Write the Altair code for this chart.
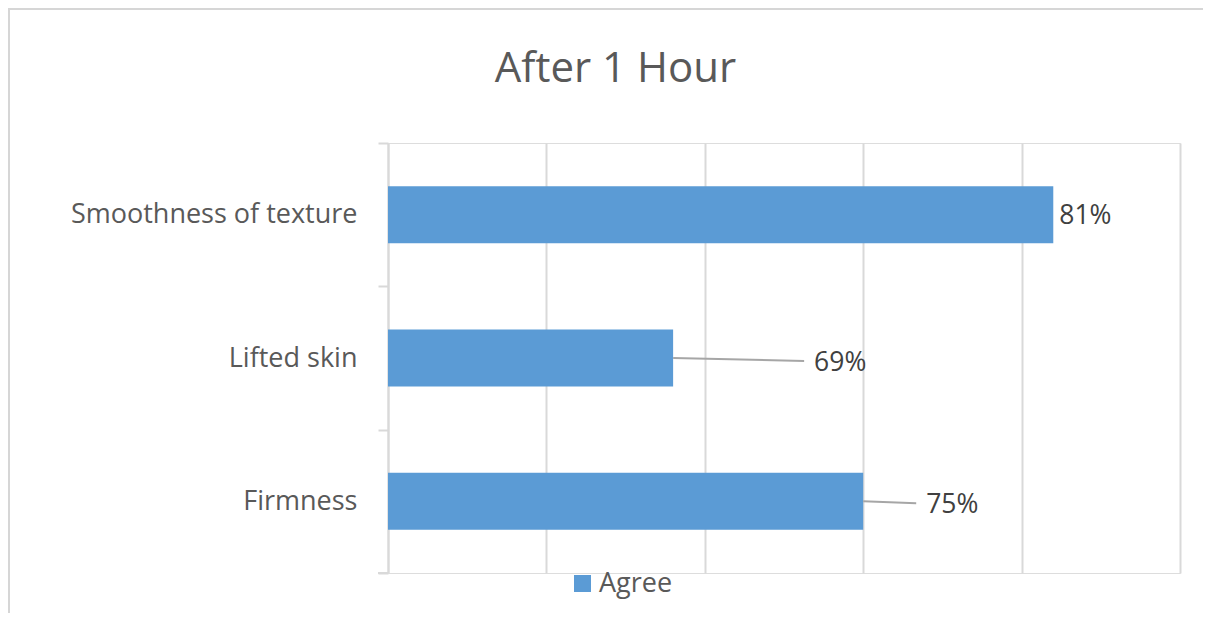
import altair as alt
import pandas as pd

# ---- data ----
title_text = "After 1 Hour"
categories = ["Smoothness of texture", "Lifted skin", "Firmness"]
values = [81, 69, 75]
series_name = "Agree"
grid_values = [60, 65, 70, 75, 80, 85]

df = pd.DataFrame({"category": categories, "value": values, "series": [series_name] * len(categories)})
one = pd.DataFrame({"t": [title_text]})

FONT = "Open Sans"
BLUE = "#5B9BD5"
GRID = "#D9D9D9"
TXT = "#595959"
LBL = "#404040"

base = alt.Chart(df)

y_enc = alt.Y(
    "category:N",
    sort=categories,
    title=None,
    scale=alt.Scale(paddingInner=0, paddingOuter=0),
    axis=alt.Axis(
        labelFont=FONT, labelFontSize=27, labelColor=TXT, labelPadding=21, labelLimit=400,
        domainColor=GRID, domainWidth=2, tickColor=GRID, tickWidth=2, tickSize=10,
        tickBand="extent", grid=False,
    ),
)
x_enc = alt.X(
    "value:Q",
    title=None,
    scale=alt.Scale(domain=[60, 85], nice=False, zero=False),
    axis=alt.Axis(values=grid_values, labels=False, ticks=False, domain=False,
                  grid=True, gridColor=GRID, gridWidth=2),
)

bars = base.mark_bar(size=57).encode(
    y=y_enc,
    x=x_enc,
    x2=alt.datum(60),
    color=alt.Color(
        "series:N",
        scale=alt.Scale(range=[BLUE]),
        legend=alt.Legend(
            orient="none", legendX=181, legendY=427, title=None,
            symbolType="square", symbolSize=289, symbolStrokeWidth=0,
            labelFont=FONT, labelFontSize=27, labelColor=TXT, labelOffset=3,
            padding=0,
        ),
    ),
)

def label_layer(cat, dx, dy):
    return base.transform_filter(alt.datum.category == cat).transform_calculate(
        lab="datum.value + '%'"
    ).mark_text(align="left", baseline="middle", dx=dx, dy=dy,
                font=FONT, fontSize=26.5, color=LBL).encode(
        y=alt.Y("category:N", sort=categories),
        x=alt.X("value:Q"),
        text="lab:N",
    )

def leader_layer(cat, length, drop):
    return base.transform_filter(alt.datum.category == cat).mark_rule(
        color="#A6A6A6", strokeWidth=2, x2Offset=length, y2Offset=drop
    ).encode(
        y=alt.Y("category:N", sort=categories),
        y2=alt.Y2("category:N"),
        x=alt.X("value:Q"),
        x2=alt.X2("value:Q"),
    )

lab1 = label_layer(categories[0], 6, 1)
lab2 = label_layer(categories[1], 141, 5)
lab3 = label_layer(categories[2], 63, 4)
lead2 = leader_layer(categories[1], 131, 3)
lead3 = leader_layer(categories[2], 53, 2)

title_mark = alt.Chart(one).mark_text(
    align="center", baseline="alphabetic", font=FONT, fontSize=42, color=TXT
).encode(x=alt.value(227.5), y=alt.value(-61), text="t:N")

top_border = alt.Chart(one).mark_rule(color="#D6D6D6", strokeWidth=2).encode(
    x=alt.value(-380), x2=alt.value(815), y=alt.value(-134)
)
left_border = alt.Chart(one).mark_rule(color="#D6D6D6", strokeWidth=2).encode(
    x=alt.value(-379), y=alt.value(-135), y2=alt.value(470)
)
bottom_tick = alt.Chart(one).mark_rule(color=GRID, strokeWidth=2).encode(
    x=alt.value(-10), x2=alt.value(0), y=alt.value(430)
)

chart = alt.layer(
    bars, lead2, lead3, lab1, lab2, lab3, title_mark, top_border, left_border, bottom_tick
).properties(
    width=792, height=430,
    autosize=alt.AutoSizeParams(type="none"),
    padding={"left": 380, "top": 135, "right": 24, "bottom": 40},
).configure_view(stroke=None).configure(background="white")

chart.save("out.html", embed_options={"renderer": "svg", "actions": False})
